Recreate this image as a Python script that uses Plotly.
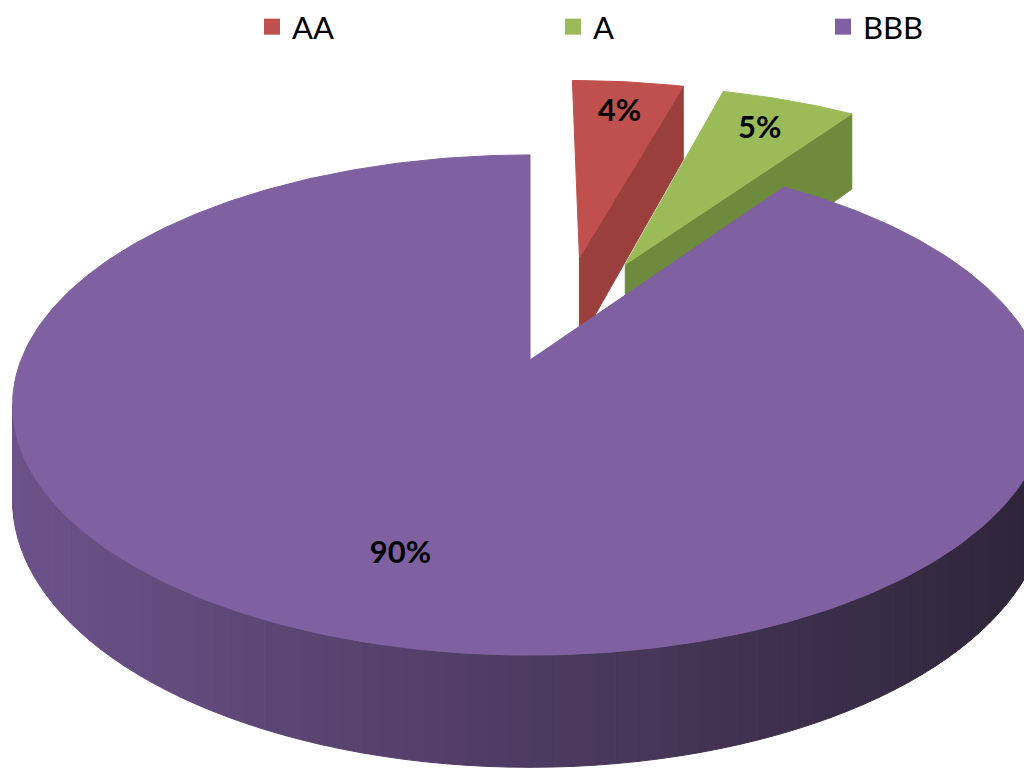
import numpy as np
import plotly.graph_objects as go

# ---- data ----
categories = ["AA", "A", "BBB"]
values = [4.4, 5.3, 90.3]

# ---- style ----
explode = [0.47, 0.47, 0.0]
explode_turn_deg = [5.0, 0.0, 0.0]
top_colors = ["#C0504D", "#9BBB59", "#7F60A0"]
face_colors = ["#9B3F3D", "#6E8A3C", "#5B4675"]
side_left = np.array([0x6C, 0x52, 0x8A])
side_right = np.array([0x2E, 0x24, 0x38])
legend_marker_x = [272, 573, 843]  # pixel centres of legend symbols

# projection parameters (oblique perspective view of a unit disc)
CX, CY = 530.0, 360.0
AX, BY = 509.0, 242.0
K = 0.18
DEPTH = 92.0


def proj(X, Y, bottom=False):
    X = np.asarray(X, dtype=float)
    Y = np.asarray(Y, dtype=float)
    w = 1 + K * Y
    sx = CX + AX * X / w
    sy = CY - BY * Y / w + (DEPTH / w if bottom else 0.0)
    return sx, sy


def hexcol(c):
    c = np.clip(np.round(c), 0, 255).astype(int)
    return "#%02X%02X%02X" % tuple(c)


total = sum(values)
fracs = [v / total for v in values]
starts = np.concatenate([[0.0], np.cumsum(fracs)[:-1]]) * 2 * np.pi
ends = np.cumsum(fracs) * 2 * np.pi

fig = go.Figure()

sil_a = np.arccos(-K)
sil_b = 2 * np.pi - sil_a
xmin_screen = CX - AX * 1.017
xmax_screen = CX + AX * 1.017

label_pos = []
for i, cat in enumerate(categories):
    t0, t1 = starts[i], ends[i]
    mid = 0.5 * (t0 + t1)
    ed = mid + np.radians(explode_turn_deg[i])
    ox, oy = explode[i] * np.sin(ed), explode[i] * np.cos(ed)

    # outer side (front part only)
    a, b = max(t0, sil_a), min(t1, sil_b)
    if b > a:
        nstrip = 80
        edges = np.linspace(a, b, nstrip + 1)
        for j in range(nstrip):
            th = np.linspace(edges[j], edges[j + 1], 6)
            tx, ty = proj(ox + np.sin(th), oy + np.cos(th))
            bx, by = proj(ox + np.sin(th), oy + np.cos(th), bottom=True)
            xs = np.concatenate([tx, bx[::-1], tx[:1]])
            ys = np.concatenate([ty, by[::-1], ty[:1]])
            f = (np.mean(tx) - xmin_screen) / (xmax_screen - xmin_screen)
            col = hexcol(side_left + (side_right - side_left) * f)
            fig.add_trace(go.Scatter(x=xs, y=ys, mode="lines", fill="toself",
                                     fillcolor=col, line=dict(color=col, width=1),
                                     hoverinfo="skip", showlegend=False))

    # end radial face (visible for exploded slices)
    if explode[i] > 0:
        px = [ox, ox + np.sin(t1), ox + np.sin(t1), ox, ox]
        py = [oy, oy + np.cos(t1), oy + np.cos(t1), oy, oy]
        bot = [False, False, True, True, False]
        xs, ys = [], []
        for X, Y, bb in zip(px, py, bot):
            sx, sy = proj(X, Y, bottom=bb)
            xs.append(float(sx)); ys.append(float(sy))
        fig.add_trace(go.Scatter(x=xs, y=ys, mode="lines", fill="toself",
                                 fillcolor=face_colors[i], line=dict(color=face_colors[i], width=1),
                                 hoverinfo="skip", showlegend=False))

    # top face
    th = np.linspace(t0, t1, max(8, int((t1 - t0) / (2 * np.pi) * 400)))
    X = np.concatenate([[ox], ox + np.sin(th), [ox]])
    Y = np.concatenate([[oy], oy + np.cos(th), [oy]])
    sx, sy = proj(X, Y)
    fig.add_trace(go.Scatter(x=sx, y=sy, mode="lines", fill="toself",
                             fillcolor=top_colors[i], line=dict(color=top_colors[i], width=1),
                             hoverinfo="skip", showlegend=False))

    r = 0.8 if explode[i] > 0 else 0.74
    lx, ly = proj(ox + r * np.sin(mid), oy + r * np.cos(mid))
    label_pos.append((float(lx), float(ly), f"{round(fracs[i] * 100)}%"))

fig.add_trace(go.Scatter(x=[p[0] for p in label_pos], y=[p[1] for p in label_pos],
                         text=[p[2] for p in label_pos], mode="text",
                         textfont=dict(family="Lato", size=31, color="black", weight="bold"),
                         hoverinfo="skip", showlegend=False))

# legend entries, one legend box each so they can be spread across the top
legend_names = ["legend", "legend2", "legend3"]
for i, cat in enumerate(categories):
    fig.add_trace(go.Scatter(x=[None], y=[None], mode="markers", name=cat,
                             legend=legend_names[i],
                             marker=dict(symbol="square", size=16, color=top_colors[i])))

layout_legends = {}
for i, ln in enumerate(legend_names):
    layout_legends[ln] = dict(orientation="h", x=(legend_marker_x[i] - 20) / 1024, y=1.0,
                              xanchor="left", yanchor="top",
                              font=dict(family="Lato", size=31, color="black"),
                              bgcolor="rgba(0,0,0,0)")

fig.update_layout(
    width=1024, height=768,
    margin=dict(l=0, r=0, t=0, b=0),
    paper_bgcolor="white", plot_bgcolor="white",
    xaxis=dict(range=[0, 1024], visible=False, fixedrange=True),
    yaxis=dict(range=[768, 0], visible=False, fixedrange=True),
    showlegend=True,
    **layout_legends,
)

fig.write_html("out.html", config={"displayModeBar": False},
               post_script="document.body.style.margin='0';")
